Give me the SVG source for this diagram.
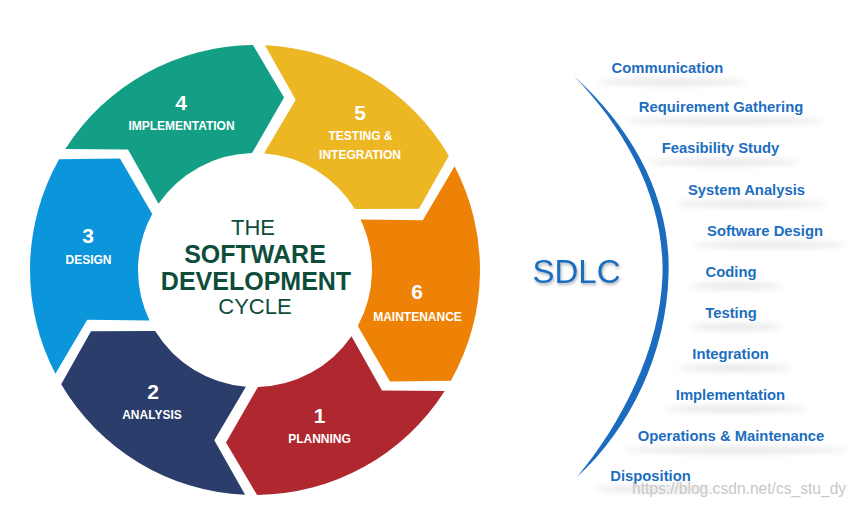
<svg xmlns="http://www.w3.org/2000/svg" width="857" height="506" viewBox="0 0 857 506">
<style>
.num{font-family:"Liberation Sans",Arial,sans-serif;font-weight:bold;font-size:21px;fill:#fff;text-anchor:middle}
.lbl{font-family:"Liberation Sans",Arial,sans-serif;font-weight:bold;font-size:12px;fill:#fff;text-anchor:middle}
.ctr{font-family:"Liberation Sans",Arial,sans-serif;fill:#0f4d3b;text-anchor:middle}
.item{font-family:"Liberation Sans",Arial,sans-serif;font-weight:bold;font-size:14.8px;fill:#1d6ebf;text-anchor:middle}
.sh{fill:#000;opacity:0.11;filter:url(#blur)}
</style>
<defs>
<filter id="blur" x="-20%" y="-200%" width="140%" height="500%"><feGaussianBlur stdDeviation="3"/></filter>
<filter id="drop" x="-10%" y="-20%" width="120%" height="150%"><feDropShadow dx="1" dy="2" stdDeviation="1.5" flood-color="#000" flood-opacity="0.3"/></filter>
</defs>
<rect width="857" height="506" fill="#fff"/>

<g id="cycle-center">
<text class="ctr" x="253" y="235" font-size="22">THE</text>
<text class="ctr" x="255" y="263" font-size="25" font-weight="bold">SOFTWARE</text>
<text class="ctr" x="256" y="290" font-size="25" font-weight="bold">DEVELOPMENT</text>
<text class="ctr" x="255" y="314" font-size="22">CYCLE</text>
</g>

<g id="phase-1">
<path fill="#b0282f" d="M444.7,391.0 A225,225 0 0 1 257.1,495.0 L226.0,442.6 L257.9,387.0 A117,117 0 0 0 351.5,336.2 L382.0,390.4 Z"/>
<text class="num" x="319.5" y="423">1</text>
<text class="lbl" x="319.5" y="443">PLANNING</text>
</g>
<g id="phase-2">
<path fill="#2b3d6a" d="M245.1,494.8 A225,225 0 0 1 61.2,384.3 L91.0,331.2 L155.2,331.0 A117,117 0 0 0 245.9,386.7 L214.3,440.2 Z"/>
<text class="num" x="153" y="399">2</text>
<text class="lbl" x="152" y="419">ANALYSIS</text>
</g>
<g id="phase-3">
<path fill="#0b95da" d="M55.4,373.8 A225,225 0 0 1 59.1,159.3 L120.0,158.6 L152.2,214.1 A117,117 0 0 0 149.5,320.5 L87.2,319.8 Z"/>
<text class="num" x="88" y="243">3</text>
<text class="lbl" x="88.5" y="264">DESIGN</text>
</g>
<g id="phase-4">
<path fill="#129f85" d="M65.3,149.0 A225,225 0 0 1 252.9,45.0 L284.0,97.4 L252.1,153.0 A117,117 0 0 0 158.5,203.8 L128.0,149.6 Z"/>
<text class="num" x="181" y="110">4</text>
<text class="lbl" x="181.5" y="130">IMPLEMENTATION</text>
</g>
<g id="phase-5">
<path fill="#ecb722" d="M264.9,45.2 A225,225 0 0 1 448.8,155.7 L419.0,208.8 L354.8,209.0 A117,117 0 0 0 264.1,153.3 L295.7,99.8 Z"/>
<text class="num" x="360" y="120">5</text>
<text class="lbl" x="360.5" y="140">TESTING &amp;</text>
<text class="lbl" x="360" y="159">INTEGRATION</text>
</g>
<g id="phase-6">
<path fill="#ee8206" d="M454.6,166.2 A225,225 0 0 1 450.9,380.7 L390.0,381.4 L357.8,325.9 A117,117 0 0 0 360.5,219.5 L422.8,220.2 Z"/>
<text class="num" x="417" y="299">6</text>
<text class="lbl" x="417.5" y="321">MAINTENANCE</text>
</g>

<g id="sdlc">
<text x="576.5" y="283" font-family="Liberation Sans, Arial, sans-serif" font-size="33" fill="#1b6dc0" text-anchor="middle" filter="url(#drop)">SDLC</text>
</g>

<g id="connectors">
<path fill="#1b6bbe" d="M574,76 C634,130 671.5,200 668.5,275 C666.5,352 631,428 577,477 C621,424 660,350 662.5,275 C664.5,200 627,131 574,76 Z"/>
</g>

<g id="stage-list">
<g id="s1"><ellipse class="sh" cx="672" cy="82" rx="74" ry="3"/><text class="item" x="667.5" y="73">Communication</text></g>
<g id="s2"><ellipse class="sh" cx="726" cy="121" rx="100" ry="3"/><text class="item" x="721" y="112">Requirement Gathering</text></g>
<g id="s3"><ellipse class="sh" cx="725" cy="162" rx="76" ry="3"/><text class="item" x="720.5" y="153">Feasibility Study</text></g>
<g id="s4"><ellipse class="sh" cx="751" cy="204" rx="76" ry="3"/><text class="item" x="746.5" y="195">System Analysis</text></g>
<g id="s5"><ellipse class="sh" cx="770" cy="245" rx="76" ry="3"/><text class="item" x="765" y="236">Software Design</text></g>
<g id="s6"><ellipse class="sh" cx="736" cy="286" rx="46" ry="3"/><text class="item" x="731" y="277">Coding</text></g>
<g id="s7"><ellipse class="sh" cx="736" cy="327" rx="46" ry="3"/><text class="item" x="731" y="318">Testing</text></g>
<g id="s8"><ellipse class="sh" cx="735" cy="368" rx="57" ry="3"/><text class="item" x="730.5" y="359">Integration</text></g>
<g id="s9"><ellipse class="sh" cx="735" cy="409" rx="72" ry="3"/><text class="item" x="730.5" y="400">Implementation</text></g>
<g id="s10"><ellipse class="sh" cx="736" cy="450" rx="112" ry="3"/><text class="item" x="731" y="441">Operations &amp; Maintenance</text></g>
<g id="s11"><ellipse class="sh" cx="655" cy="489" rx="60" ry="3"/><text class="item" x="650.5" y="481">Disposition</text></g>
</g>

<text x="632" y="494" font-family="Liberation Sans, Arial, sans-serif" font-size="15.6" fill="#c8c8c8">https://blog.csdn.net/cs_stu_dy</text>
</svg>
